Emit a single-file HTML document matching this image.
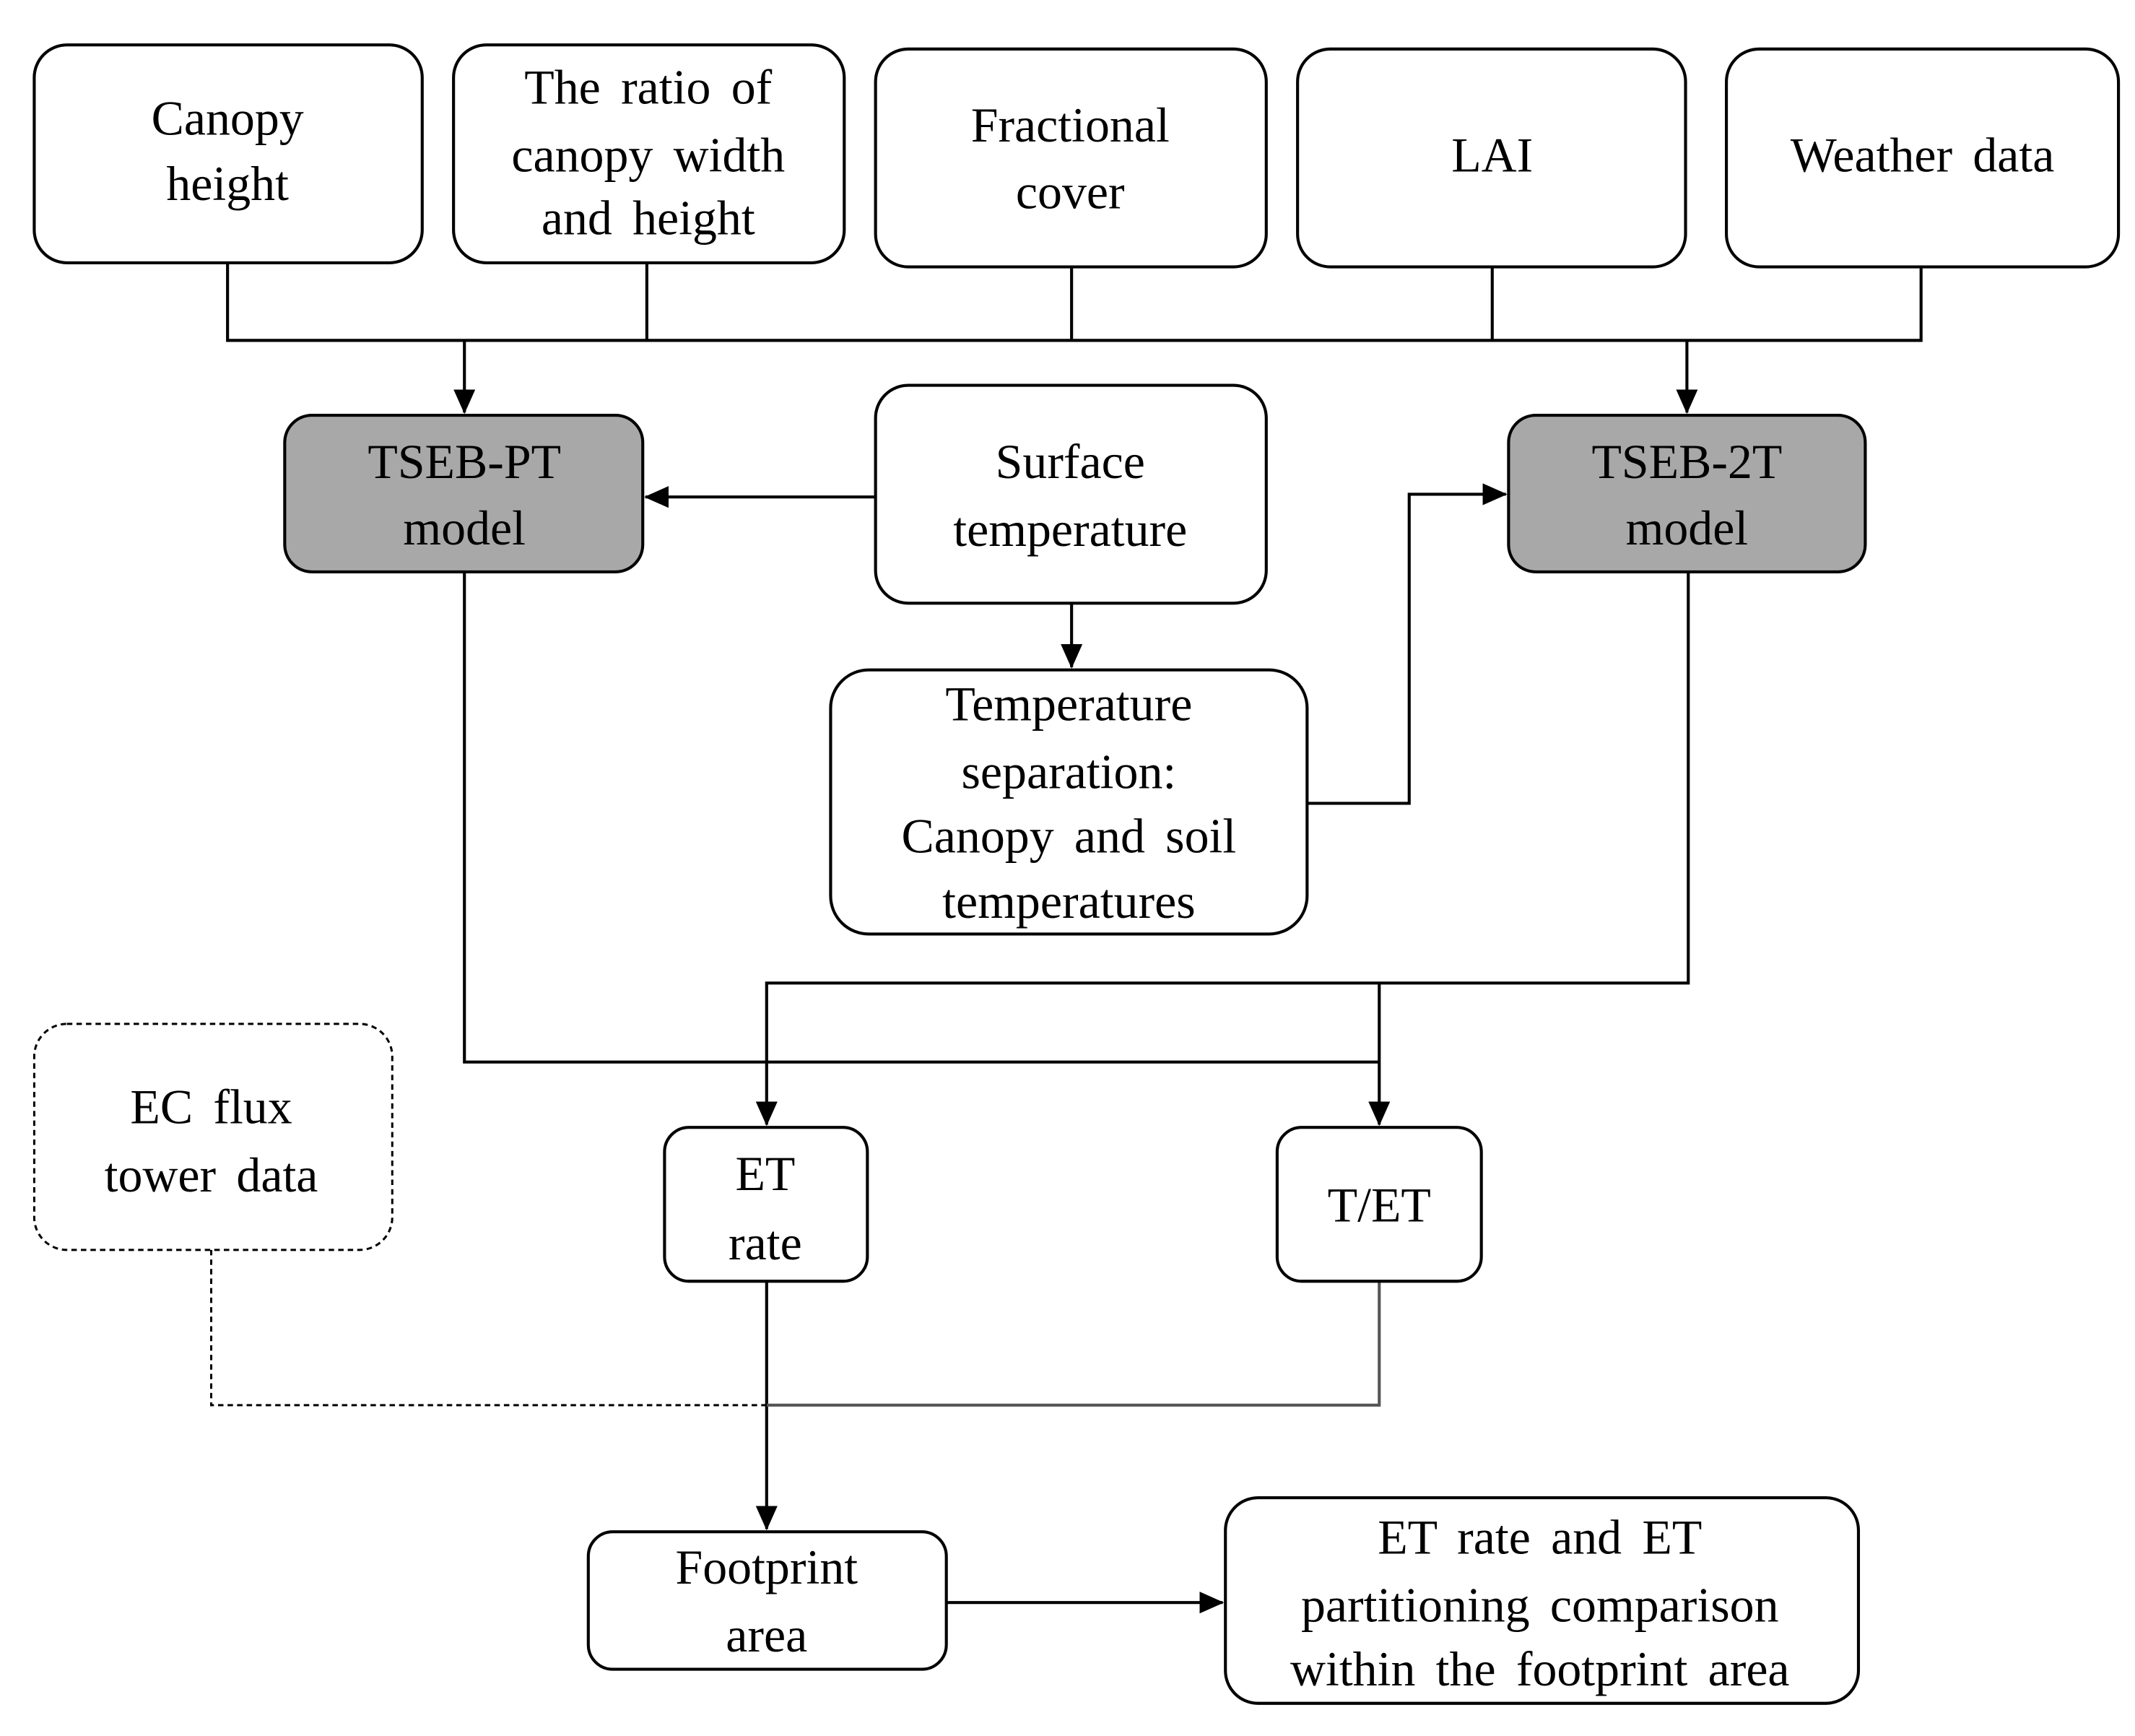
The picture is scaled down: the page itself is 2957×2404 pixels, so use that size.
<!DOCTYPE html>
<html><head><meta charset="utf-8"><style>html,body{margin:0;padding:0;background:#fff}svg{display:block}</style></head>
<body>
<svg width="2957" height="2404" viewBox="0 0 1568 1275" xmlns="http://www.w3.org/2000/svg">
<defs>
<marker id="b" markerWidth="18" markerHeight="16" refX="17" refY="8" orient="auto" markerUnits="userSpaceOnUse"><path d="M0,0 L18,8 L0,16 z" fill="#000"/></marker></defs>
<g fill="none" stroke="#000" stroke-width="2.2">
<path d="M167,193V250H1411V196M475,193V250M787,196V250M1096,196V250"/>
<path d="M341,250V303" marker-end="url(#b)"/>
<path d="M1239,250V303" marker-end="url(#b)"/>
<path d="M643,365H474" marker-end="url(#b)"/>
<path d="M787,443V490" marker-end="url(#b)"/>
<path d="M960,590H1035V363H1106" marker-end="url(#b)"/>
<path d="M341,420V780H1013"/>
<path d="M1240,420V722H563V826" marker-end="url(#b)"/>
<path d="M1013,722V826" marker-end="url(#b)"/>
<path d="M563,941V1123" marker-end="url(#b)"/>
<path d="M695,1177H898" marker-end="url(#b)"/>
<path d="M1013,941V1032H563" stroke="#555"/>
<path d="M155,918V1032H563" stroke-dasharray="4,3" stroke-width="1.6"/>
</g>
<g stroke="#000" stroke-width="2.2" fill="#fff">
<rect x="25" y="33" width="285" height="160" rx="24"/>
<rect x="333" y="33" width="287" height="160" rx="24"/>
<rect x="643" y="36" width="287" height="160" rx="24"/>
<rect x="953" y="36" width="285" height="160" rx="24"/>
<rect x="1268" y="36" width="288" height="160" rx="24"/>
<rect x="209" y="305" width="263" height="115" rx="20" fill="#a8a8a8"/>
<rect x="1108" y="305" width="262" height="115" rx="20" fill="#a8a8a8"/>
<rect x="643" y="283" width="287" height="160" rx="24"/>
<rect x="610" y="492" width="350" height="194" rx="28"/>
<rect x="25" y="752" width="263" height="166" rx="24" stroke-dasharray="4,3" stroke-width="1.6"/>
<rect x="488" y="828" width="149" height="113" rx="18"/>
<rect x="938" y="828" width="150" height="113" rx="18"/>
<rect x="432" y="1125" width="263" height="101" rx="18"/>
<rect x="900" y="1100" width="465" height="151" rx="24"/>
</g>
<g font-family="Liberation Serif, serif" font-size="36" word-spacing="6" text-anchor="middle" fill="#000">
<text x="167" y="99">Canopy</text><text x="167" y="147">height</text>
<text x="476" y="76">The ratio of</text><text x="476" y="126">canopy width</text><text x="476" y="172">and height</text>
<text x="786" y="104">Fractional</text><text x="786" y="153">cover</text>
<text x="1096" y="126">LAI</text>
<text x="1412" y="126">Weather data</text>
<text x="341" y="351">TSEB-PT</text><text x="341" y="400">model</text>
<text x="1239" y="351">TSEB-2T</text><text x="1239" y="400">model</text>
<text x="786" y="351">Surface</text><text x="786" y="401">temperature</text>
<text x="785" y="529">Temperature</text><text x="785" y="579">separation:</text><text x="785" y="626">Canopy and soil</text><text x="785" y="674">temperatures</text>
<text x="155" y="825">EC flux</text><text x="155" y="875">tower data</text>
<text x="562" y="874">ET</text><text x="562" y="925">rate</text>
<text x="1013" y="897">T/ET</text>
<text x="563" y="1163">Footprint</text><text x="563" y="1213">area</text>
<text x="1131" y="1141">ET rate and ET</text><text x="1131" y="1191">partitioning comparison</text><text x="1131" y="1238">within the footprint area</text>
</g>
</svg>
</body></html>
